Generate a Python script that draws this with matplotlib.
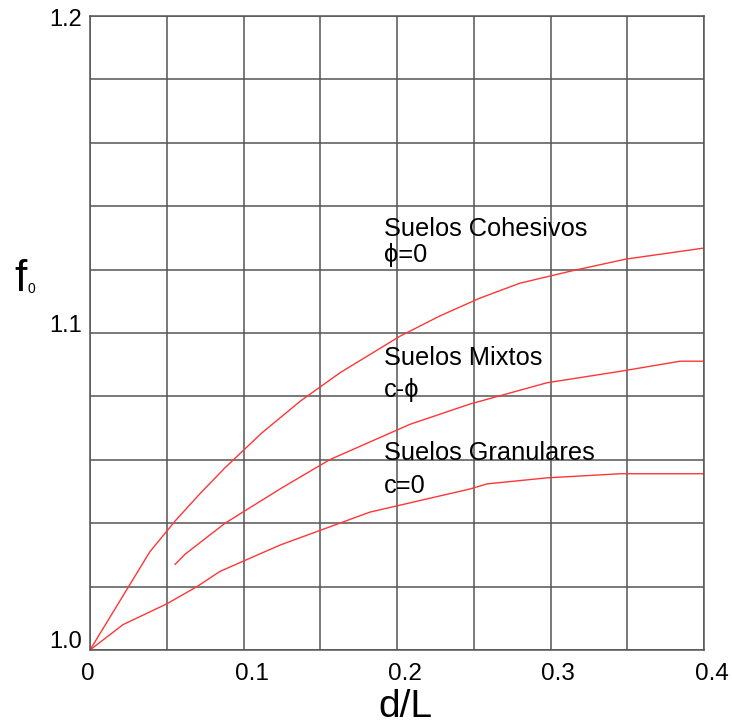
import matplotlib
matplotlib.use("Agg")
import matplotlib.pyplot as plt
from matplotlib.ticker import MultipleLocator, FixedLocator, NullFormatter
from matplotlib.transforms import offset_copy

plt.rcParams['font.family'] = ['Liberation Sans', 'DejaVu Sans']

# Data
coh_x = [0.0, 0.039, 0.056, 0.072, 0.088, 0.112, 0.137, 0.163, 0.202, 0.228, 0.254, 0.280, 0.313, 0.349, 0.400]
coh_y = [1.000, 1.031, 1.041, 1.0495, 1.0575, 1.0685, 1.0785, 1.0875, 1.099, 1.1054, 1.111, 1.1157, 1.1195, 1.1233, 1.1268]

mix_x = [0.0554, 0.0619, 0.088, 0.1238, 0.156, 0.2085, 0.2476, 0.2977, 0.3453, 0.3844, 0.400]
mix_y = [1.027, 1.0302, 1.040, 1.0508, 1.060, 1.0712, 1.0776, 1.0843, 1.0879, 1.0911, 1.0911]

gra_x = [0.0, 0.0215, 0.0502, 0.0697, 0.0847, 0.0997, 0.1238, 0.1824, 0.2476, 0.2586, 0.2977, 0.3453, 0.400]
gra_y = [1.000, 1.008, 1.0146, 1.020, 1.0248, 1.028, 1.0331, 1.0435, 1.0508, 1.0524, 1.0543, 1.0556, 1.0556]

x_ticks = [0, 0.1, 0.2, 0.3, 0.4]
x_tick_labels = ["0", "0.1", "0.2", "0.3", "0.4"]
y_ticks = [1.0, 1.1, 1.2]
y_tick_labels = ["1.0", "1.1", "1.2"]

labels = [
    ("Suelos Cohesivos", "ϕ=0", 1.1306, 1.1224),
    ("Suelos Mixtos", "c-ϕ", 1.0899, 1.0798),
    ("Suelos Granulares", "c=0", 1.0599, 1.0495),
]
label_x = 0.1915

W, H = 732, 727
fig = plt.figure(figsize=(W / 100, H / 100), dpi=100)
ax = fig.add_axes([90 / W, (H - 650) / H, 614 / W, 634 / H])

red = '#ff3636'
ax.plot(coh_x, coh_y, color=red, lw=1.0)
ax.plot(mix_x, mix_y, color=red, lw=1.0)
ax.plot(gra_x, gra_y, color=red, lw=1.0)

ax.set_xlim(0, 0.4)
ax.set_ylim(1.0, 1.2)

ax.xaxis.set_major_locator(FixedLocator(x_ticks))
ax.xaxis.set_minor_locator(MultipleLocator(0.05))
ax.yaxis.set_major_locator(FixedLocator(y_ticks))
ax.yaxis.set_minor_locator(MultipleLocator(0.02))
ax.xaxis.set_major_formatter(NullFormatter())
ax.yaxis.set_major_formatter(NullFormatter())

gcol = '#555555'
ax.grid(True, which='both', color=gcol, lw=1.1)
ax.set_axisbelow(True)
for s in ax.spines.values():
    s.set_color(gcol)
    s.set_linewidth(1.1)
ax.tick_params(which='both', length=0)

# tick labels as texts with pixel offsets matching the reference
xtr = ax.get_xaxis_transform()
for v, t in zip(x_ticks, x_tick_labels):
    ax.text(v, 0, t, fontsize=17.5, ha='left', va='top',
            transform=offset_copy(xtr, fig=fig, x=-9, y=-13, units='dots'))
ytr = ax.get_yaxis_transform()
y_offsets = [8, 7, -4]
for v, t, dy in zip(y_ticks, y_tick_labels, y_offsets):
    ax.text(0, v, t, fontsize=17, ha='right', va='center',
            transform=offset_copy(ytr, fig=fig, x=-8, y=dy, units='dots'))

for name, sub, y1, y2 in labels:
    ax.text(label_x, y1, name, fontsize=18.3, va='baseline', ha='left')
    ax.text(label_x, y2, sub, fontsize=18.3, va='baseline', ha='left')

fig.text(405 / W, 2 / H, "d/L", fontsize=28, ha='center', va='bottom')
fig.text(14 / W, 1 - 291 / H, "f", fontsize=32, ha='left', va='baseline')
fig.text(27 / W, 1 - 293 / H, "0", fontsize=10, ha='left', va='baseline')

fig.savefig("out.png", dpi=100)
